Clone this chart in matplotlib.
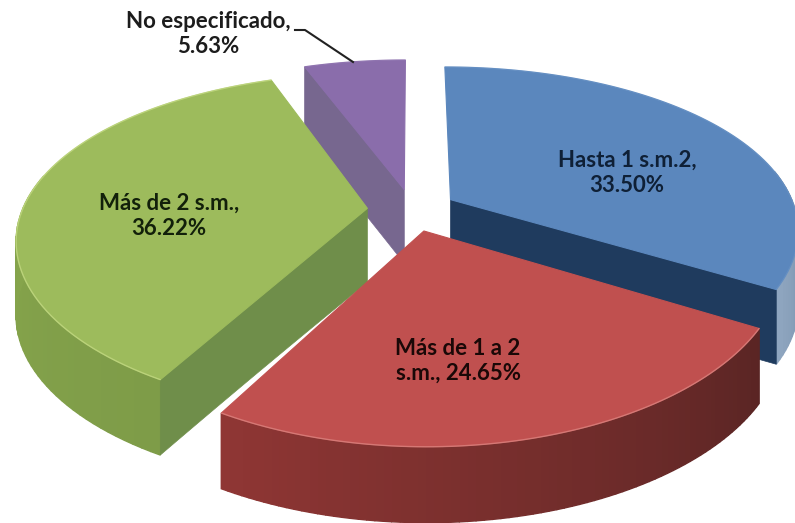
import matplotlib
matplotlib.use("Agg")
import matplotlib.pyplot as plt
from matplotlib.colors import to_rgb
from matplotlib.patches import Polygon
import numpy as np

categorias = ["Hasta 1 s.m.2", "Más de 1 a 2 s.m.", "Más de 2 s.m.", "No especificado"]
valores = [33.50, 24.65, 36.22, 5.63]
textos = ["Hasta 1 s.m.2,\n33.50%", "Más de 1 a 2\ns.m., 24.65%",
          "Más de 2 s.m.,\n36.22%", "No especificado,\n5.63%"]

# cara superior, pared radial, pared exterior (inicio, fin), brillo
c_top = ["#5b87bd", "#c0504f", "#9dbb5c", "#8a6dab"]
c_rad = ["#1f3b5e", "#7a2e2c", "#6f8e4a", "#77678f"]
c_ext = [("#1f3b5e", "#8fa6c0"), ("#5a2524", "#8f3634"), ("#7e9c48", "#8fae50"), ("#6a5685", "#6a5685")]
c_rim = ["#7fa5d2", "#e08a86", "#cfe38f", "#a48cc2"]
a_rim = [0.25, 0.7, 0.6, 0.2]
# que pared radial se ve en cada rebanada (0 inicio, 1 fin)
paredes = [(1,), (), (0,), (0,)]

# perspectiva del disco
CX, CY = 412, 210
RX, RY = 345, 163
KX, KY = 0.175, 0.20
EXPL = 0.13
DEPTH = 74


def proy(x, y, z=0):
    s = 1 / (1 + KY * y)
    return CX + RX * x / (1 + KX * y), CY - RY * y * s + z * s ** 0.1


def mezcla(a, b, t):
    a, b = np.array(to_rgb(a)), np.array(to_rgb(b))
    return tuple(a + (b - a) * t)


fig = plt.figure(figsize=(7.95, 5.23), dpi=100)
ax = fig.add_axes([0, 0, 1, 1])
ax.set_xlim(0, 795)
ax.set_ylim(523, 0)
ax.axis("off")

fracs = np.array(valores) / sum(valores) * 2 * np.pi
inicios = np.concatenate([[0], np.cumsum(fracs)[:-1]])

# de atras hacia adelante: morado, azul, verde, rojo
for i in [3, 0, 2, 1]:
    t0, t1 = inicios[i], inicios[i] + fracs[i]
    m = (t0 + t1) / 2
    ox, oy = EXPL * np.sin(m), EXPL * np.cos(m)
    ts = np.linspace(t0, t1, 80)
    ux, uy = ox + np.sin(ts), oy + np.cos(ts)

    # pared exterior, solo la parte que mira al frente
    for j in range(len(ts) - 1):
        if np.cos(ts[j]) > 0.2:
            continue
        q = [proy(ux[j], uy[j]), proy(ux[j + 1], uy[j + 1]),
             proy(ux[j + 1], uy[j + 1], DEPTH), proy(ux[j], uy[j], DEPTH)]
        col = mezcla(c_ext[i][0], c_ext[i][1], j / (len(ts) - 2))
        ax.add_patch(Polygon(q, closed=True, fc=col, ec=col, lw=1.0))

    # paredes radiales
    for n in paredes[i]:
        t = (t0, t1)[n]
        ex, ey = ox + np.sin(t), oy + np.cos(t)
        rs = np.linspace(0, 1, 30)
        px, py = ox + (ex - ox) * rs, oy + (ey - oy) * rs
        arriba = [proy(a, b) for a, b in zip(px, py)]
        abajo = [proy(a, b, DEPTH) for a, b in zip(px, py)]
        ax.add_patch(Polygon(arriba + abajo[::-1], closed=True, fc=c_rad[i], ec=c_rad[i], lw=0.5))

    # cara superior
    borde = [proy(a, b) for a, b in zip(ux, uy)]
    ax.add_patch(Polygon([proy(ox, oy)] + borde, closed=True, fc=c_top[i], ec=c_top[i], lw=0.8))
    bx, by = zip(*borde)
    ax.plot(bx, by, color=c_rim[i], lw=1.0, alpha=a_rim[i], solid_capstyle="round")

fuente = ["Lato", "DejaVu Sans"]
pos_txt = [(627, 173), (458, 361), (169, 216), (208, 34)]
col_txt = ["#0f2036", "#1a0807", "#12200a", "#1c1c1c"]
for i, s in enumerate(textos):
    ax.text(pos_txt[i][0], pos_txt[i][1], s, ha="center", va="center", fontsize=16,
            fontweight="bold", family=fuente, color=col_txt[i], linespacing=1.25)

# linea guia de "No especificado"
ax.plot([295, 305, 353], [30, 30, 62], color="#222222", lw=1.5)

fig.savefig("out.png", dpi=100)
